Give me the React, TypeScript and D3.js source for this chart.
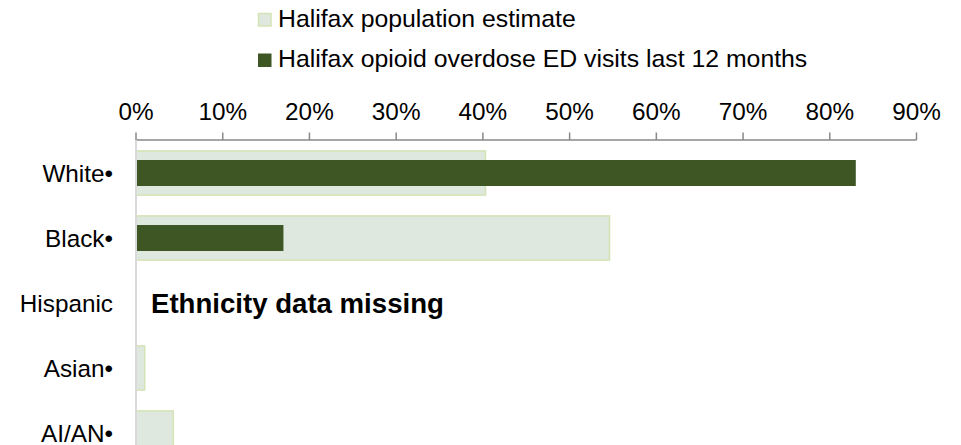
import React from "react";
import * as d3 from "d3";

const categories = ["White•", "Black•", "Hispanic", "Asian•", "AI/AN•"];
const populationEstimate = [40.3, 54.6, null, 1.0, 4.3];
const edVisits = [83.0, 17.0, null, 0, 0];
const xTicks = [0, 10, 20, 30, 40, 50, 60, 70, 80, 90];
const legendLabels = [
  "Halifax population estimate",
  "Halifax opioid overdose ED visits last 12 months",
];
const missingNote = "Ethnicity data missing";

const W = 961;
const H = 445;
const FONT = "'Liberation Sans', Arial, sans-serif";
const POP_FILL = "#dfe8de";
const POP_STROKE = "#d4e3b4";
const DARK = "#3e5623";

export default function App() {
  const x = d3.scaleLinear().domain([0, 90]).range([136, 916.5]);
  const y = d3
    .scaleBand<string>()
    .domain(categories)
    .range([140.5, 465.5])
    .paddingInner(0.32)
    .paddingOuter(0.16);
  const bw = y.bandwidth();
  const innerH = 26;

  return (
    <svg
      width={W}
      height={H}
      style={{ position: "absolute", left: 0, top: 0, background: "#fff" }}
      fontFamily={FONT}
    >
      {/* legend */}
      <g>
        <rect x={258.5} y={13.5} width={12.5} height={12.5} fill={POP_FILL} stroke={POP_STROKE} strokeWidth={1.5} />
        <text x={278} y={26.7} fontSize={24.8} fill="#000">{legendLabels[0]}</text>
        <rect x={258} y={53.5} width={13.5} height={13.5} fill={DARK} />
        <text x={278} y={66.7} fontSize={24.8} fill="#000">{legendLabels[1]}</text>
      </g>

      {/* x axis at top */}
      <g>
        <line x1={x(0)} x2={x(90)} y1={140} y2={140} stroke="#898989" strokeWidth={1.5} />
        {xTicks.map((t) => (
          <g key={t}>
            <line x1={x(t)} x2={x(t)} y1={132.5} y2={140} stroke="#898989" strokeWidth={1.5} />
            <text x={x(t)} y={119.5} fontSize={24.3} textAnchor="middle" fill="#000">
              {t}%
            </text>
          </g>
        ))}
      </g>

      {/* bars */}
      {categories.map((c, i) => {
        const y0 = y(c)!;
        const p = populationEstimate[i];
        const v = edVisits[i];
        return (
          <g key={c}>
            {p !== null && p > 0 && (
              <rect
                x={x(0)}
                y={y0}
                width={x(p) - x(0)}
                height={bw}
                fill={POP_FILL}
                stroke={POP_STROKE}
                strokeWidth={1.5}
              />
            )}
            {v !== null && v > 0 && (
              <rect
                x={x(0)}
                y={y0 + (bw - innerH) / 2}
                width={x(v) - x(0)}
                height={innerH}
                fill={DARK}
              />
            )}
            <text
              x={113}
              y={y0 + bw / 2}
              dy="0.35em"
              fontSize={24.3}
              textAnchor="end"
              fill="#000"
            >
              {c}
            </text>
          </g>
        );
      })}

      {/* y axis line */}
      <line x1={x(0)} x2={x(0)} y1={140} y2={H} stroke="#d9d9d9" strokeWidth={2} />

      <text
        x={151}
        y={(y("Hispanic") ?? 0) + bw / 2}
        dy="0.36em"
        fontSize={27.6}
        fontWeight="bold"
        fill="#000"
      >
        {missingNote}
      </text>
    </svg>
  );
}
